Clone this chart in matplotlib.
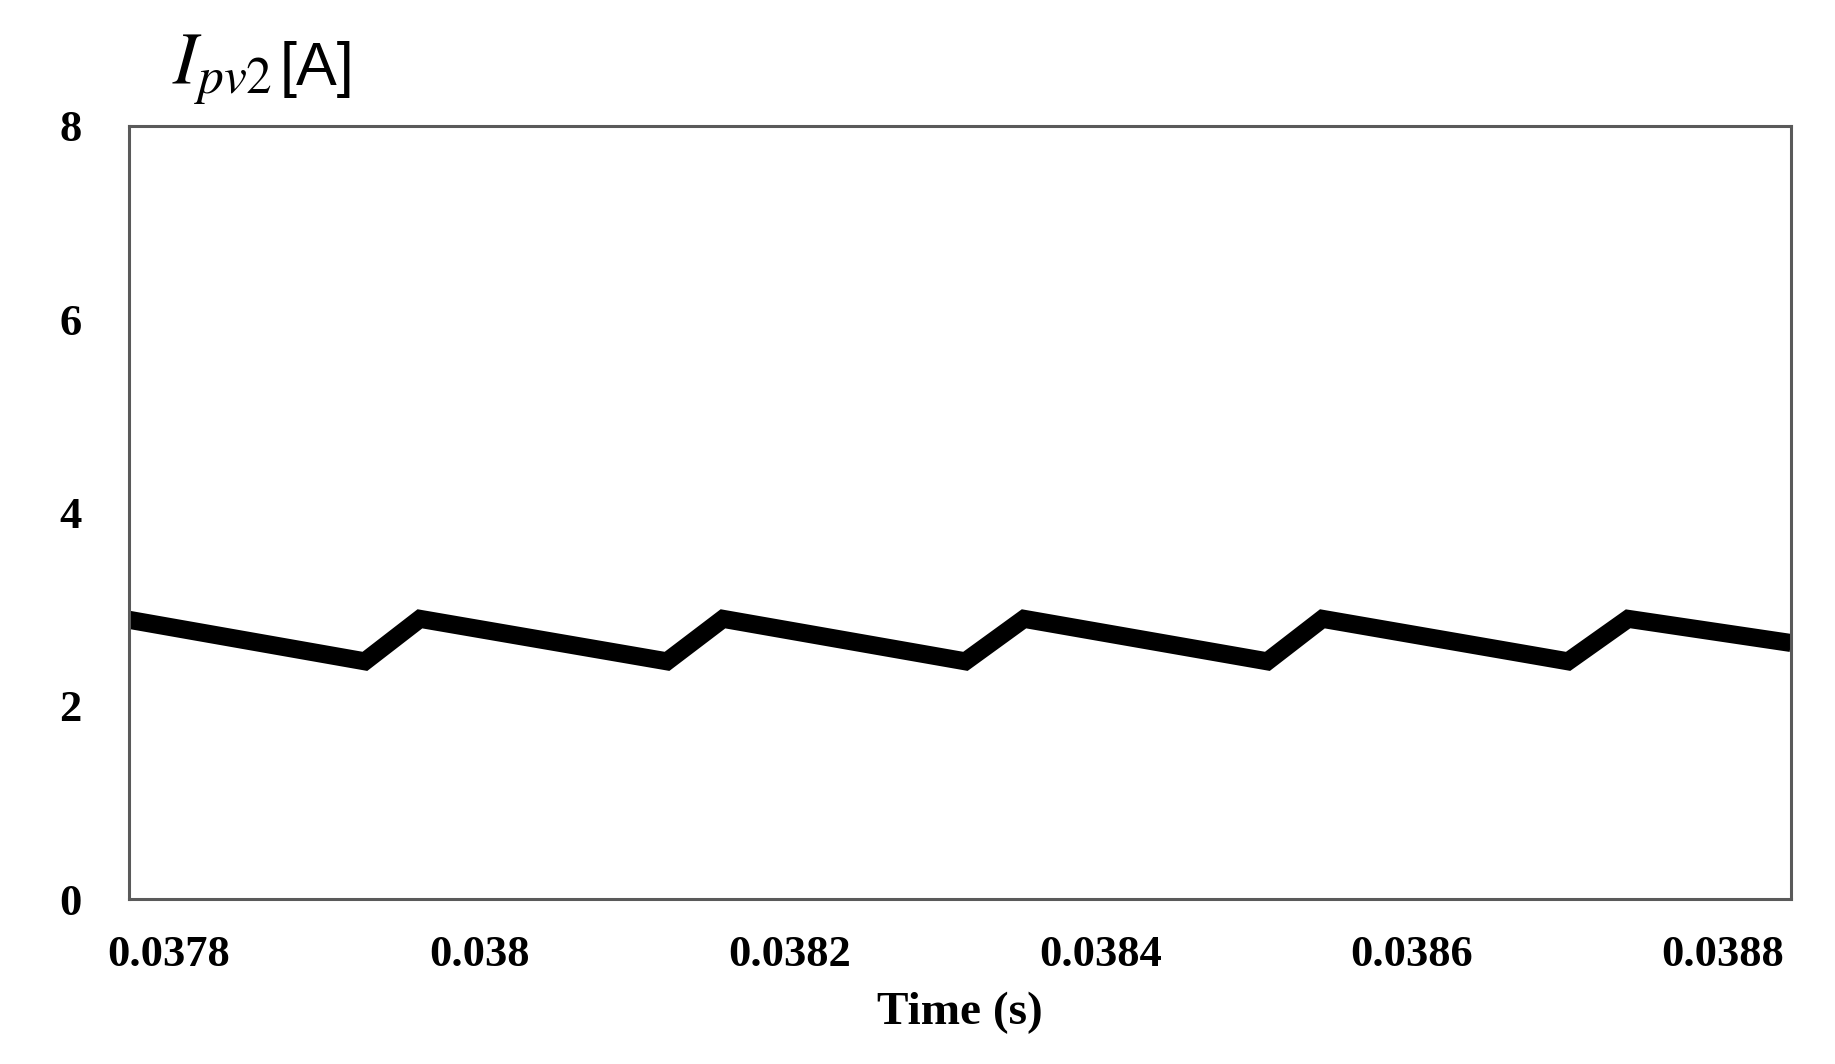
#!/usr/bin/env python3
"""
PV2 current waveform over one millisecond window.
"""

import matplotlib
matplotlib.use('Agg')  # Non-interactive backend
import matplotlib.pyplot as plt

# Waveform corner points (s, A)
time_s = [0.0377746, 0.0379264, 0.0379618, 0.0381208, 0.0381568,
          0.0383128, 0.0383505, 0.0385071, 0.0385425, 0.0387006,
          0.0387392, 0.0388440]
i_pv2 = [2.89, 2.46, 2.90, 2.46, 2.90,
         2.46, 2.90, 2.46, 2.90, 2.46,
         2.90, 2.65]

x_ticks = [0.0378, 0.0380, 0.0382, 0.0384, 0.0386, 0.0388]
x_tick_labels = ['0.0378', '0.038', '0.0382', '0.0384', '0.0386', '0.0388']
y_ticks = [0, 2, 4, 6, 8]


def plot_ipv2():
    plt.rcParams['mathtext.fontset'] = 'stix'
    fig = plt.figure(figsize=(18.35, 10.64), dpi=100)
    ax = fig.add_axes([0.0703, 0.155, 0.9057, 0.7266])

    ax.plot(time_s, i_pv2, '-', color='black', linewidth=13,
            solid_joinstyle='miter', solid_capstyle='butt')

    ax.set_xlim(0.0377746, 0.0388440)
    ax.set_ylim(0, 8)

    tick_font = dict(family='Liberation Serif', weight='bold', size=32)
    ax.set_xticks(x_ticks)
    ax.set_xticklabels(x_tick_labels, fontdict=tick_font)
    ax.set_yticks(y_ticks)
    ax.set_yticklabels([str(v) for v in y_ticks], fontdict=tick_font)
    ax.tick_params(axis='x', length=0, pad=26)
    ax.tick_params(axis='y', length=0, pad=34)

    for side in ['top', 'bottom', 'left', 'right']:
        ax.spines[side].set_color('#5a5a5a')
        ax.spines[side].set_linewidth(2.2)

    ax.set_xlabel('Time (s)', family='Liberation Serif', weight='bold',
                  fontsize=34, labelpad=12)

    # axis-unit label sits above the y axis, like the original figure
    fig.text(0.094, 0.92, r'$I_{pv2}$', fontsize=53, va='baseline',
             ha='left')
    fig.text(0.1525, 0.92, '[A]', fontsize=44, va='baseline', ha='left',
             family='Liberation Sans')

    plt.savefig('out.png', dpi=100)
    plt.close()


if __name__ == '__main__':
    plot_ipv2()
